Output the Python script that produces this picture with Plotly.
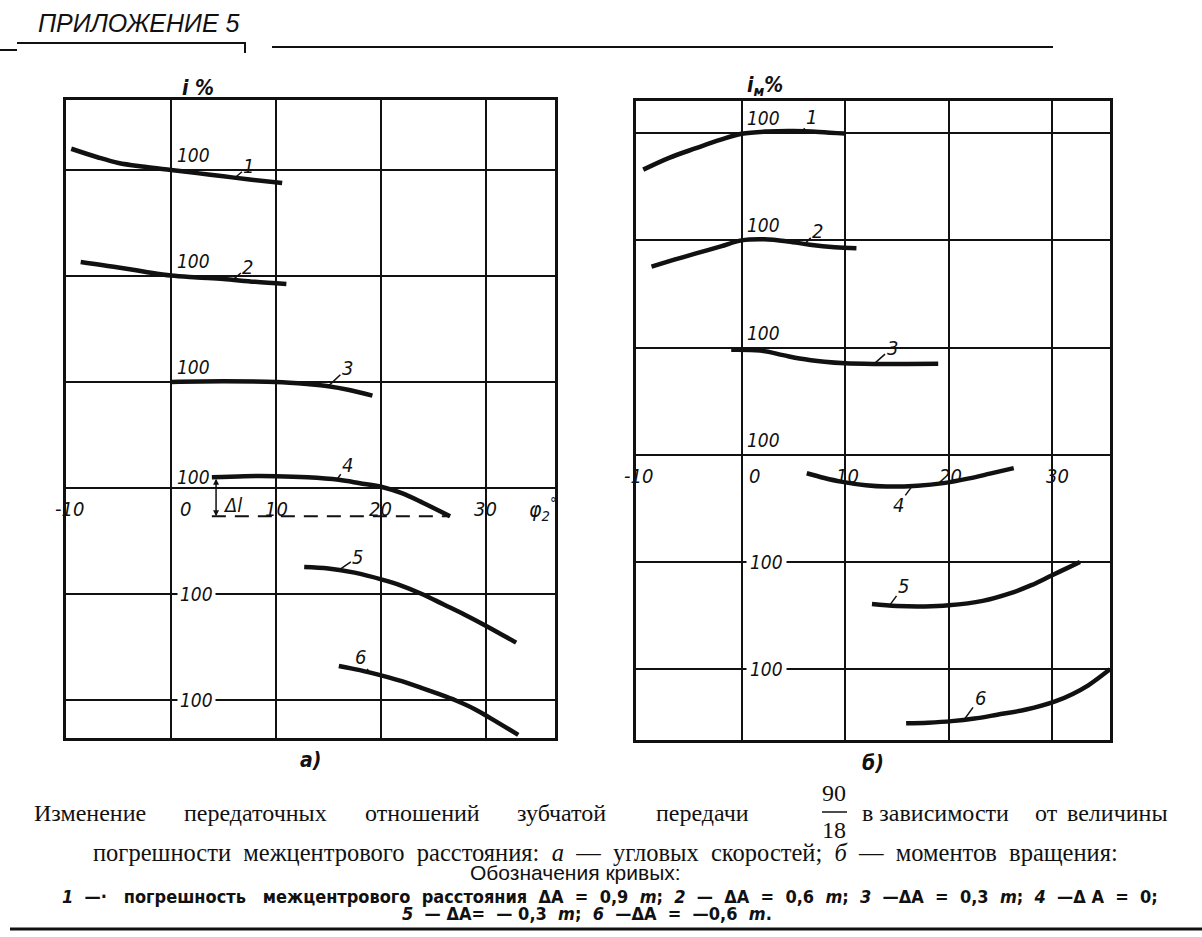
import numpy as np
import plotly.graph_objects as go

# values: angle phi_2 in degrees, ratio in % of nominal (100)
# a) ratio of angular velocities, i %
phi_a1 = [-9.5, -7, -5, -2.5, 0, 2.5, 5, 7.5, 10.6]
i_a1 = [101.0, 100.6, 100.33, 100.15, 100.0, 99.85, 99.7, 99.55, 99.38]
phi_a2 = [-8.6, -5, -2.5, 0, 2.5, 5, 8, 11]
i_a2 = [100.66, 100.4, 100.2, 100.02, 99.93, 99.85, 99.72, 99.62]
phi_a3 = [0, 5, 10, 13, 15, 17, 19.2]
i_a3 = [100.0, 100.03, 100.0, 99.9, 99.8, 99.62, 99.35]
phi_a4 = [3.9, 7, 10, 13, 16, 18, 20.2, 22, 24, 26.6]
i_a4 = [100.0, 100.05, 100.05, 100.0, 99.88, 99.72, 99.53, 99.25, 98.8, 98.16]
phi_a5 = [12.7, 15, 17.5, 20.2, 22, 23.8, 26, 28, 30, 32.9]
i_a5 = [101.27, 101.2, 101.0, 100.66, 100.38, 100.02, 99.5, 99.02, 98.5, 97.7]
phi_a6 = [16, 18, 20.2, 22, 23.8, 25.5, 27.1, 29, 30.4, 33.1]
i_a6 = [101.6, 101.4, 101.13, 100.88, 100.58, 100.28, 99.98, 99.55, 99.15, 98.35]

# b) ratio of torques, i_m %
phi_b1 = [-9.5, -7, -4.4, -2, 0, 2.5, 5, 7.5, 10]
i_b1 = [98.3, 98.85, 99.3, 99.7, 99.97, 100.08, 100.1, 100.06, 99.98]
phi_b2 = [-8.7, -6.5, -4.4, -2, 0, 2.2, 4.5, 6.6, 9, 11.1]
i_b2 = [98.78, 99.1, 99.39, 99.72, 100.0, 100.05, 99.95, 99.8, 99.68, 99.63]
phi_b3 = [-1.0, 1.8, 4, 5.6, 8, 10, 12.9, 16, 19]
i_b3 = [99.9, 99.86, 99.65, 99.49, 99.34, 99.27, 99.24, 99.24, 99.25]
phi_b4 = [6.3, 8, 9.6, 12, 14, 17, 19.5, 22, 24, 26.3]
i_b4 = [99.14, 98.92, 98.75, 98.58, 98.52, 98.56, 98.68, 98.9, 99.12, 99.38]
phi_b5 = [12.6, 15, 17.7, 20, 23.3, 26, 28, 29.9, 31.3, 32.7]
i_b5 = [98.04, 97.95, 97.93, 97.98, 98.19, 98.55, 98.92, 99.36, 99.68, 100.0]
phi_b6 = [15.9, 18, 20.3, 22.5, 24.7, 27.5, 30.3, 32, 33.5, 35.6]
i_b6 = [97.48, 97.51, 97.58, 97.7, 97.88, 98.12, 98.5, 98.85, 99.25, 100.0]

curve_names = ['1', '2', '3', '4', '5', '6']
phi_ticks = [-10, 0, 10, 20, 30]
phi_labels = ['-10', '0', '10', '20', '30']

phi_a = [phi_a1, phi_a2, phi_a3, phi_a4, phi_a5, phi_a6]
i_a = [i_a1, i_a2, i_a3, i_a4, i_a5, i_a6]
phi_b = [phi_b1, phi_b2, phi_b3, phi_b4, phi_b5, phi_b6]
i_b = [i_b1, i_b2, i_b3, i_b4, i_b5, i_b6]

# where the 100 % level of every curve is drawn (1 plot unit = 1 %)
base_a = [15, 10, 5, 0.5, -5, -10]
base_b = [15, 10, 5, 0, -5, -10]

W, H = 1202, 937
INK = '#111111'
ITAL = dict(family='Liberation Sans Narrow, DejaVu Sans Condensed, Liberation Sans, sans-serif',
            color=INK, style='italic')


def px(x):
    return x / W


def py(y):
    return 1 - y / H


fig = go.Figure()

for k in range(6):
    fig.add_trace(go.Scatter(x=phi_a[k], y=[base_a[k] + v - 100 for v in i_a[k]],
                             mode='lines', line=dict(color=INK, width=4.5, shape='spline', smoothing=1.0),
                             xaxis='x', yaxis='y', hoverinfo='skip', showlegend=False))
    fig.add_trace(go.Scatter(x=phi_b[k], y=[base_b[k] + v - 100 for v in i_b[k]],
                             mode='lines', line=dict(color=INK, width=4.5, shape='spline', smoothing=1.0),
                             xaxis='x2', yaxis='y2', hoverinfo='skip', showlegend=False))

# delta l on curve 4 (a): dashed level of the last point
end4 = base_a[3] + i_a4[-1] - 100
fig.add_trace(go.Scatter(x=[phi_a4[0], phi_a4[-1]], y=[end4, end4], mode='lines',
                         line=dict(color=INK, width=2, dash='14px,9px'),
                         xaxis='x', yaxis='y', hoverinfo='skip', showlegend=False))

ann = []

# "100" marks
for k in range(6):
    if k < 4:
        ya = 'middle' if k == 3 else 'bottom'
        ann.append(dict(x=0, y=base_a[k], xref='x', yref='y', text='100', showarrow=False,
                        xanchor='left', yanchor=ya, xshift=4, yshift=2 if k != 3 else 0,
                        font=dict(size=19, **ITAL)))
        ann.append(dict(x=0, y=base_b[k], xref='x2', yref='y2', text='100', showarrow=False,
                        xanchor='left', yanchor='bottom', xshift=3, yshift=2,
                        font=dict(size=19, **ITAL)))
    else:
        ann.append(dict(x=0, y=base_a[k], xref='x', yref='y', text='100', showarrow=False,
                        xanchor='left', yanchor='middle', xshift=6, bgcolor='white', borderpad=2,
                        font=dict(size=19, **ITAL)))
        ann.append(dict(x=0, y=base_b[k], xref='x2', yref='y2', text='100', showarrow=False,
                        xanchor='left', yanchor='middle', xshift=4, bgcolor='white', borderpad=3,
                        font=dict(size=19, **ITAL)))

# curve numbers with short leaders
lead_a = [(6.1, 14, -12), (5.9, 15, -13), (15.0, 19, -18), (15.8, 11, -15), (16.0, 19, -13), (18.9, -9, -16)]
lead_b = [(5.9, 9, -14), (6.1, 13, -13), (12.8, 18, -16), (16.5, -14, 19), (14.3, 14, -19), (21.5, 16, -22)]
for k in range(6):
    xa, dxa, dya = lead_a[k]
    ya = base_a[k] + np.interp(xa, phi_a[k], i_a[k]) - 100
    ann.append(dict(x=xa, y=ya, xref='x', yref='y', text=curve_names[k], showarrow=True,
                    arrowhead=0, arrowwidth=1.5, arrowcolor=INK, ax=dxa, ay=dya, standoff=0,
                    font=dict(size=20, **ITAL)))
    xb, dxb, dyb = lead_b[k]
    yb = base_b[k] + np.interp(xb, phi_b[k], i_b[k]) - 100
    ann.append(dict(x=xb, y=yb, xref='x2', yref='y2', text=curve_names[k], showarrow=True,
                    arrowhead=0, arrowwidth=1.5, arrowcolor=INK, ax=dxb, ay=dyb, standoff=0,
                    font=dict(size=20, **ITAL)))

# phi_2 tick labels sit on the zero line
shift_a = [3, 15, 1, 0, 0]
shift_b = [0, 13, 2, 2, 5]
for t, lab, sa, sb in zip(phi_ticks, phi_labels, shift_a, shift_b):
    ann.append(dict(x=t, y=0, xref='x', yref='y', text=lab, showarrow=False, xanchor='center',
                    yanchor='top', xshift=sa, yshift=-7, font=dict(size=20, **ITAL)))
    ann.append(dict(x=t, y=0, xref='x2', yref='y2', text=lab, showarrow=False, xanchor='center',
                    yanchor='top', xshift=sb, yshift=-7, font=dict(size=20, **ITAL)))
ann.append(dict(x=35.4, y=0, xref='x', yref='y', text='φ<sub>2</sub><sup>°</sup>', showarrow=False,
                xanchor='center', yanchor='top', yshift=-4, font=dict(size=21, **ITAL)))
ann.append(dict(x=35.8, y=0, xref='x2', yref='y2', text='φ<sub>2</sub><sup>°</sup>', showarrow=False,
                xanchor='center', yanchor='top', yshift=-4, font=dict(size=21, **ITAL)))

# delta l arrow and label
ann.append(dict(x=4.3, y=end4, ax=4.3, ay=base_a[3], xref='x', yref='y', axref='x', ayref='y',
                text='', showarrow=True, arrowhead=2, arrowside='end+start', arrowsize=0.8,
                arrowwidth=1.5, arrowcolor=INK))
ann.append(dict(x=5.9, y=-0.8, xref='x', yref='y', text='Δl', showarrow=False,
                xanchor='center', yanchor='middle', font=dict(size=20, **ITAL)))


def page_text(x, y, text, font, xanchor='center'):
    return dict(x=px(x), y=py(y), xref='paper', yref='paper', text=text, showarrow=False,
                xanchor=xanchor, yanchor='middle', font=font)


# axis names and panel letters
ann.append(page_text(198, 88, '<b>i %</b>', dict(size=21, **ITAL)))
ann.append(page_text(765, 86, '<b>i<sub>м</sub>%</b>', dict(size=21, **ITAL)))
ann.append(page_text(310, 760, '<b>а)</b>', dict(size=21, **ITAL)))
ann.append(page_text(873, 763, '<b>б)</b>', dict(size=21, **ITAL)))

# page header
ann.append(page_text(36, 23, 'ПРИЛОЖЕНИЕ 5',
                     dict(family='Liberation Sans, sans-serif', size=25, color=INK, style='italic'),
                     xanchor='left'))

# caption
SERIF = dict(family='Liberation Serif, serif', color=INK)
CONDB = dict(family='Liberation Sans Narrow, DejaVu Sans Condensed, sans-serif', size=18, color=INK)
words1 = [('Изменение', 90), ('передаточных', 255), ('отношений', 422), ('зубчатой', 561),
          ('передачи', 702), ('в зависимости', 935), ('от', 1046), ('величины', 1117)]
for w, xc in words1:
    ann.append(page_text(xc, 813, w, dict(size=24, **SERIF)))
ann.append(page_text(834, 793, '90', dict(size=24, **SERIF)))
ann.append(page_text(834, 830, '18', dict(size=24, **SERIF)))
sp = '\u00a0 '
ann.append(page_text(605, 852,
                     sp.join(['погрешности', 'межцентрового', 'расстояния:', '<i>а</i>', '—', 'угловых',
                              'скоростей;', '<i>б</i>', '—', 'моментов', 'вращения:']),
                     dict(size=24.5, **SERIF)))
ann.append(page_text(575, 872, 'Обозначения кривых:',
                     dict(family='Liberation Sans, sans-serif', size=21, color=INK)))
nb = '\u00a0'
s2 = nb * 2
s3 = nb * 3
line4 = ('<i>1</i>' + s2 + '—·' + s3 + 'погрешность' + s3 + 'межцентрового' + s2 + 'расстояния' + s2 +
         'ΔA' + s2 + '=' + s2 + '0,9' + s2 + '<i>m</i>;' + s2 + '<i>2</i>' + s2 + '—' + s2 + 'ΔA' + s2 + '=' +
         s2 + '0,6' + s2 + '<i>m</i>;' + s2 + '<i>3</i>' + s2 + '—ΔA' + s2 + '=' + s2 + '0,3' + s2 +
         '<i>m</i>;' + s2 + '<i>4</i>' + s2 + '—Δ' + nb + 'A' + s2 + '=' + s2 + '0;')
ann.append(page_text(610, 896, '<b>' + line4 + '</b>', CONDB))
line5 = ('<i>5</i>' + s2 + '—' + nb + 'ΔA=' + s2 + '—' + nb + '0,3' + s2 + '<i>m</i>;' + s2 + '<i>6</i>' + s2 +
         '—ΔA' + s2 + '=' + s2 + '—0,6' + s2 + '<i>m</i>.')
ann.append(page_text(587, 913, '<b>' + line5 + '</b>', CONDB))

shapes = [
    dict(type='line', xref='paper', yref='paper', x0=px(0), x1=px(17), y0=py(50), y1=py(50),
         line=dict(color=INK, width=2)),
    dict(type='line', xref='paper', yref='paper', x0=px(17), x1=px(245), y0=py(43), y1=py(43),
         line=dict(color=INK, width=2)),
    dict(type='line', xref='paper', yref='paper', x0=px(245), x1=px(245), y0=py(42), y1=py(53),
         line=dict(color=INK, width=2)),
    dict(type='line', xref='paper', yref='paper', x0=px(272), x1=px(1053), y0=py(47), y1=py(47),
         line=dict(color=INK, width=2)),
    dict(type='line', xref='paper', yref='paper', x0=px(822), x1=px(847), y0=py(812), y1=py(812),
         line=dict(color=INK, width=1.5)),
    dict(type='line', xref='paper', yref='paper', x0=px(10), x1=px(1202), y0=py(929), y1=py(929),
         line=dict(color=INK, width=3)),
]

frame = dict(showgrid=True, gridcolor=INK, gridwidth=2, zeroline=False, showline=True, linecolor=INK,
             linewidth=3, mirror=True, ticks='', showticklabels=False, fixedrange=True)

fig.update_layout(
    width=W, height=H, autosize=False,
    margin=dict(l=0, r=0, t=0, b=0),
    paper_bgcolor='white', plot_bgcolor='white', showlegend=False,
    xaxis=dict(domain=[px(66), px(555)], range=[-10, 36.6], tickvals=[0, 10, 20, 30], anchor='y', **frame),
    yaxis=dict(domain=[py(738), py(100)], range=[-11.8, 18.3], tickvals=[15, 10, 5, 0, -5, -10],
               anchor='x', **frame),
    xaxis2=dict(domain=[px(636), px(1110)], range=[-10.2, 35.6], tickvals=[0, 10, 20, 30], anchor='y2',
                **frame),
    yaxis2=dict(domain=[py(740), py(101)], range=[-13.3, 16.5], tickvals=[15, 10, 5, 0, -5, -10],
                anchor='x2', **frame),
    annotations=ann,
    shapes=shapes,
)

fig.write_html('out.html', config={'displayModeBar': False},
               post_script="document.body.style.margin = '0px';")
